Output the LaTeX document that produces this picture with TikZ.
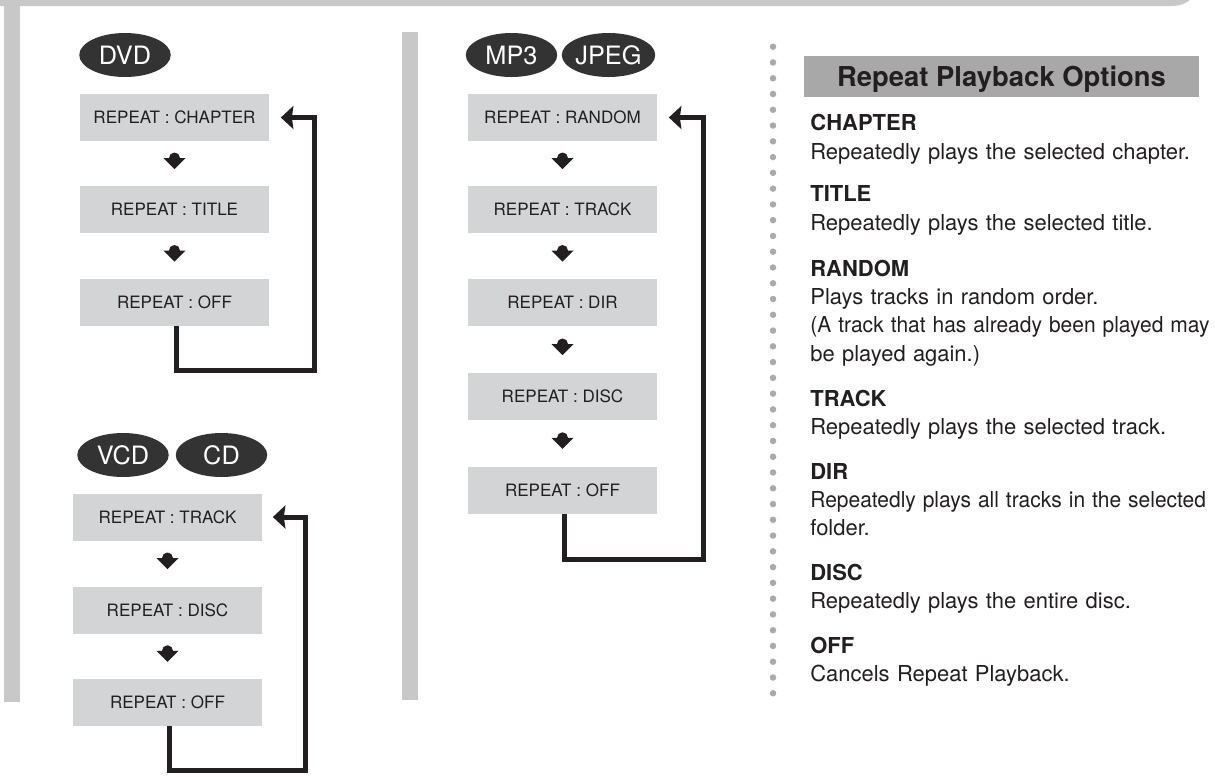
\documentclass[tikz,border=0pt]{standalone}
\usepackage{fontspec}
\setmainfont{TeX Gyre Heros}
\usetikzlibrary{arrows.meta,calc,shapes.geometric}
\definecolor{panelGray}{RGB}{200,200,200}
\definecolor{boxFill}{RGB}{211,212,214}
\definecolor{headFill}{RGB}{168,168,168}
\definecolor{tagFill}{RGB}{51,51,51}
\definecolor{loopDark}{RGB}{35,31,32}
\definecolor{dotGray}{RGB}{170,170,170}

\tikzset{
  droparrow/.pic={
    \fill[loopDark] (0,0.11) circle (0.11);
    \fill[loopDark] (-0.22,0.11) -- (0.22,0.11) -- (0,-0.11) -- cycle;
  }
}
% squeeze one over-long line of the option list
\newcommand{\tightline}[1]{\scalebox{0.955}[1]{#1}}

\begin{document}
\begin{tikzpicture}[
  tag/.style={ellipse, fill=tagFill, text=white, minimum width=1.83cm, minimum height=0.88cm,
    inner sep=0pt, font=\fontsize{14.4}{16}\selectfont},
  stepbox/.style={fill=boxFill, text=loopDark, minimum width=3.78cm, minimum height=0.94cm,
    inner sep=0pt, font=\fontsize{9.7}{11}\selectfont},
  backloop/.style={draw=loopDark, line width=0.1cm, -{Stealth[length=0.25cm, width=0.46cm, inset=0.03cm]}},
  entry/.style={anchor=base west, inner sep=0pt, text width=8.5cm, align=left, text=loopDark,
    font=\fontsize{12.5}{16.2}\selectfont}
]
\useasboundingbox (0,0) rectangle (24.3,-15.52);
\clip (0,0) rectangle (24.3,-15.52);

% Page frame: top band and the two side bars.
\fill[panelGray] (0,0.6) -- (0,-0.12) -- (23.46,-0.12)
  arc[start angle=270, end angle=360, radius=0.54] -- (24.0,0.6) -- cycle;
\fill[panelGray] (0.08,0) rectangle (0.40,-14.04);
\fill[panelGray] (8.04,-0.64) rectangle (8.36,-14.0);

% Dotted separator.
\foreach \i in {0,...,41}
  \fill[dotGray] (15.46,{-0.934-0.3154*\i}) circle (0.065);

% Disc type tags.
\node[tag] (dvdTag) at (2.50,-1.10) {DVD};
\node[tag] (vcdTag) at (2.46,-9.10) {VCD};
\node[tag] (cdTag) at (4.43,-9.10) {CD};
\node[tag] (mpTag) at (10.23,-1.10) {MP3};
\node[tag] (jpgTag) at (12.17,-1.10) {JPEG};

% DVD repeat cycle.
\node[stepbox] (dvdChapter) at (3.49,-2.35) {REPEAT : CHAPTER};
\node[stepbox] (dvdTitle) at (3.49,-4.19) {REPEAT : TITLE};
\node[stepbox] (dvdOff) at (3.49,-6.05) {REPEAT : OFF};
\coordinate (dvdTurn) at (6.29,-7.40);

% VCD / CD repeat cycle.
\node[stepbox] (vcdTrack) at (3.35,-10.34) {REPEAT : TRACK};
\node[stepbox] (vcdDisc) at (3.35,-12.20) {REPEAT : DISC};
\node[stepbox] (vcdOff) at (3.35,-14.05) {REPEAT : OFF};
\coordinate (vcdTurn) at (6.10,-15.41);

% MP3 / JPEG repeat cycle.
\node[stepbox] (mpRandom) at (11.25,-2.35) {REPEAT : RANDOM};
\node[stepbox] (mpTrack) at (11.25,-4.19) {REPEAT : TRACK};
\node[stepbox] (mpDir) at (11.25,-6.05) {REPEAT : DIR};
\node[stepbox] (mpDisc) at (11.25,-7.93) {REPEAT : DISC};
\node[stepbox] (mpOff) at (11.25,-9.80) {REPEAT : OFF};
\coordinate (mpTurn) at (14.07,-11.18);

% Step markers between boxes.
\foreach \a/\b in {dvdChapter/dvdTitle, dvdTitle/dvdOff, vcdTrack/vcdDisc, vcdDisc/vcdOff,
    mpRandom/mpTrack, mpTrack/mpDir, mpDir/mpDisc, mpDisc/mpOff}
  \pic at ($(\a.south)!0.5!(\b.north)$) {droparrow};

% Return loops back to the first setting.
\draw[backloop] ([xshift=0.04cm]dvdOff.south) |- (dvdTurn) |- ([xshift=0.23cm]dvdChapter.east);
\draw[backloop] ([xshift=0.04cm]vcdOff.south) |- (vcdTurn) |- ([xshift=0.21cm]vcdTrack.east);
\draw[backloop] ([xshift=0.04cm]mpOff.south) |- (mpTurn) |- ([xshift=0.23cm]mpRandom.east);

% Option descriptions.
\node[fill=headFill, minimum width=7.9cm, minimum height=0.82cm, inner sep=0pt, text depth=0pt,
  text=loopDark, font=\bfseries\fontsize{15.6}{18}\selectfont] (optHead) at (20.03,-1.53)
  {Repeat Playback Options};
\node[entry] (optChapter) at (16.2,-2.614)
  {\textbf{CHAPTER}\\Repeatedly plays the selected chapter.};
\node[entry] (optTitle) at (16.2,-4.034)
  {\textbf{TITLE}\\Repeatedly plays the selected title.};
\node[entry] (optRandom) at (16.2,-5.52)
  {\textbf{RANDOM}\\Plays tracks in random order.\\\tightline{(A track that has already been played may}\\be played again.)};
\node[entry] (optTrack) at (16.2,-8.12)
  {\textbf{TRACK}\\Repeatedly plays the selected track.};
\node[entry] (optDir) at (16.2,-9.58)
  {\textbf{DIR}\\\tightline{Repeatedly plays all tracks in the selected}\\folder.};
\node[entry] (optDisc) at (16.2,-11.6)
  {\textbf{DISC}\\Repeatedly plays the entire disc.};
\node[entry] (optOff) at (16.2,-13.06)
  {\textbf{OFF}\\Cancels Repeat Playback.};
\end{tikzpicture}
\end{document}
